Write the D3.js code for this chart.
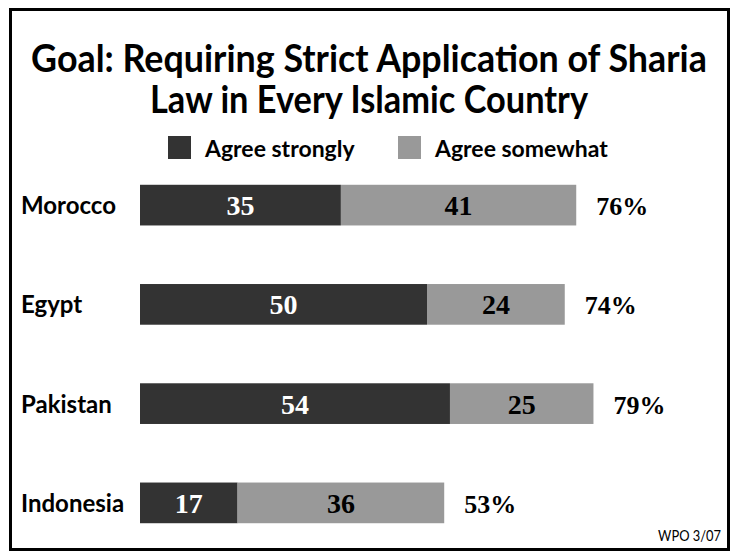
<!DOCTYPE html>
<html><head><meta charset="utf-8">
<script src="https://cdn.jsdelivr.net/npm/d3@7"></script>
<style>
html,body{margin:0;padding:0;background:#fff;}
svg{display:block;}
</style></head>
<body>
<svg id="chart" width="730" height="552"></svg>
<script>
const countries = ["Morocco", "Egypt", "Pakistan", "Indonesia"];
const agreeStrongly = [35, 50, 54, 17];
const agreeSomewhat = [41, 24, 25, 36];
const totals = [76, 74, 79, 53];
const seriesNames = ["Agree strongly", "Agree somewhat"];
const titleLines = ["Goal: Requiring Strict Application of Sharia", "Law in Every Islamic Country"];
const sourceNote = "WPO 3/07";

const colors = ["#333333", "#999999"];
const sans = "Lato, 'Open Sans', sans-serif";
const serif = "'Liberation Serif', 'DejaVu Serif', serif";

const svg = d3.select("#chart");
svg.append("rect").attr("x", 10.5).attr("y", 9.5).attr("width", 718).attr("height", 540)
  .attr("fill", "#fff").attr("stroke", "#000").attr("stroke-width", 3);

// draw a condensed sans text: width fitted by shrinking font, height restored by vertical scale
function condensed(parent, str, px, py, size, width, anchor, weight) {
  const t = parent.append("text").attr("font-family", sans).attr("font-weight", weight)
    .attr("font-size", size).attr("text-anchor", anchor || "start").text(str);
  const natural = t.node().getComputedTextLength();
  const fs = size * Math.min(1, width / natural);
  t.attr("font-size", fs).attr("transform", `translate(${px},${py}) scale(1,${size / fs})`);
  return t;
}

// title: one text element, two lines
(function () {
  const size = 38, lineGap = 41;
  const t = svg.append("text").attr("font-family", sans).attr("font-weight", 700)
    .attr("font-size", size).attr("text-anchor", "middle");
  const t1 = t.append("tspan").attr("x", 0).attr("y", 0).text(titleLines[0]);
  const natural = t1.node().getComputedTextLength();
  const fs = size * Math.min(1, 676 / natural);
  const k = size / fs;
  t.attr("font-size", fs).attr("transform", `translate(369,72) scale(1,${k})`);
  const t2 = t.append("tspan").attr("x", 0).attr("y", lineGap / k).text(titleLines[1]);
  if (t2.node().getComputedTextLength() > 438) {
    t2.attr("textLength", 438).attr("lengthAdjust", "spacingAndGlyphs");
  }
})();

// legend
const legX = [168, 398];
const legW = [151, 175];
seriesNames.forEach((n, i) => {
  svg.append("rect").attr("x", legX[i]).attr("y", 136).attr("width", 23).attr("height", 23).attr("fill", colors[i]);
  condensed(svg, n, legX[i] + 37, 157, 23, legW[i], "start", 700);
});

const x = d3.scaleLinear().domain([0, 100]).range([140, 714]);
const y = d3.scaleBand().domain(countries).range([155, 553]).paddingInner(0.59).paddingOuter(0.3);

const stackData = countries.map((c, i) => ({country: c, s: agreeStrongly[i], w: agreeSomewhat[i], t: totals[i]}));
const stack = d3.stack().keys(["s", "w"])(stackData);

const g = svg.append("g");
stack.forEach((layer, li) => {
  layer.forEach(d => {
    const yy = y(d.data.country);
    g.append("rect").attr("x", x(d[0])).attr("y", yy).attr("width", x(d[1]) - x(d[0]))
      .attr("height", y.bandwidth()).attr("fill", colors[li]);
    g.append("text").attr("x", (x(d[0]) + x(d[1])) / 2).attr("y", yy + y.bandwidth() / 2 + 10)
      .attr("text-anchor", "middle").attr("font-family", serif).attr("font-weight", 700)
      .attr("font-size", 28).attr("fill", li === 0 ? "#fff" : "#000").text(d[1] - d[0]);
  });
});

// country labels and totals
const labelW = {"Morocco": 98, "Egypt": 66, "Pakistan": 98, "Indonesia": 106};
stackData.forEach(d => {
  const yy = y(d.country);
  condensed(svg, d.country, 21, yy + y.bandwidth() / 2 + 9, 24, labelW[d.country], "start", 700);
  svg.append("text").attr("x", x(d.t) + 20).attr("y", yy + y.bandwidth() / 2 + 10)
    .attr("font-family", serif).attr("font-weight", 700).attr("font-size", 26).text(d.t + "%");
});

condensed(svg, sourceNote, 721, 541, 16, 63, "end", 400);
</script>
</body></html>
